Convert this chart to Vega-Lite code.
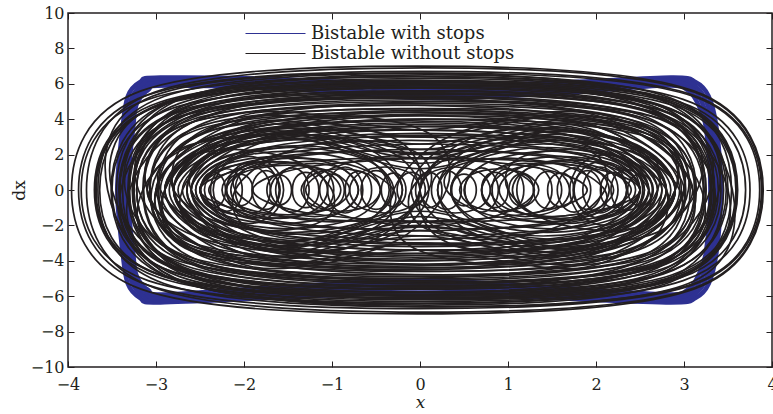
{
"$schema":"https://vega.github.io/schema/vega-lite/v6.json",
"width":704,"height":354,
"autosize":{"type":"none"},
"padding":{"left":68,"top":13,"right":1,"bottom":47},
"background":"white",
"datasets":{
"blu":[
{"g":1,"x":-2.95,"y":6.35},{"g":1,"x":-1.5,"y":6.25},{"g":1,"x":0,"y":5.9},{"g":1,"x":1.5,"y":6.05},{"g":1,"x":2.85,"y":6.35},{"g":1,"x":3.13,"y":6.1},{"g":1,"x":3.28,"y":5.3},{"g":1,"x":3.37,"y":3.5},{"g":1,"x":3.42,"y":0},{"g":1,"x":3.37,"y":-3.5},{"g":1,"x":3.28,"y":-5.3},{"g":1,"x":3.13,"y":-6.1},{"g":1,"x":2.85,"y":-6.35},{"g":1,"x":1.5,"y":-6.1},{"g":1,"x":0,"y":-5.8},{"g":1,"x":-1.5,"y":-6.05},{"g":1,"x":-2.95,"y":-6.35},{"g":1,"x":-3.18,"y":-6.1},{"g":1,"x":-3.32,"y":-5.3},{"g":1,"x":-3.38,"y":-3.5},{"g":1,"x":-3.44,"y":0},{"g":1,"x":-3.38,"y":3.5},{"g":1,"x":-3.32,"y":5.3},{"g":1,"x":-3.18,"y":6.1},
{"g":2,"x":-2.92,"y":6.2},{"g":2,"x":-1.5,"y":6.1},{"g":2,"x":0,"y":5.65},{"g":2,"x":1.5,"y":5.85},{"g":2,"x":2.82,"y":6.2},{"g":2,"x":3.1,"y":5.95},{"g":2,"x":3.24,"y":5.15},{"g":2,"x":3.33,"y":3.5},{"g":2,"x":3.38,"y":0},{"g":2,"x":3.33,"y":-3.5},{"g":2,"x":3.24,"y":-5.15},{"g":2,"x":3.1,"y":-5.95},{"g":2,"x":2.82,"y":-6.2},{"g":2,"x":1.5,"y":-5.9},{"g":2,"x":0,"y":-5.55},{"g":2,"x":-1.5,"y":-5.85},{"g":2,"x":-2.92,"y":-6.2},{"g":2,"x":-3.15,"y":-5.95},{"g":2,"x":-3.28,"y":-5.15},{"g":2,"x":-3.34,"y":-3.5},{"g":2,"x":-3.4,"y":0},{"g":2,"x":-3.34,"y":3.5},{"g":2,"x":-3.28,"y":5.15},{"g":2,"x":-3.15,"y":5.95},
{"g":3,"x":-2.9,"y":6.05},{"g":3,"x":-1.5,"y":5.9},{"g":3,"x":0,"y":5.4},{"g":3,"x":1.5,"y":5.65},{"g":3,"x":2.8,"y":6.05},{"g":3,"x":3.07,"y":5.8},{"g":3,"x":3.2,"y":5.0},{"g":3,"x":3.29,"y":3.5},{"g":3,"x":3.34,"y":0},{"g":3,"x":3.29,"y":-3.5},{"g":3,"x":3.2,"y":-5.0},{"g":3,"x":3.07,"y":-5.8},{"g":3,"x":2.8,"y":-6.05},{"g":3,"x":1.5,"y":-5.7},{"g":3,"x":0,"y":-5.3},{"g":3,"x":-1.5,"y":-5.65},{"g":3,"x":-2.9,"y":-6.05},{"g":3,"x":-3.12,"y":-5.8},{"g":3,"x":-3.25,"y":-5.0},{"g":3,"x":-3.3,"y":-3.5},{"g":3,"x":-3.36,"y":0},{"g":3,"x":-3.3,"y":3.5},{"g":3,"x":-3.25,"y":5.0},{"g":3,"x":-3.12,"y":5.8},
{"g":4,"x":-2.88,"y":5.9},{"g":4,"x":-1.5,"y":5.7},{"g":4,"x":0,"y":5.2},{"g":4,"x":1.5,"y":5.45},{"g":4,"x":2.78,"y":5.9},{"g":4,"x":3.04,"y":5.65},{"g":4,"x":3.16,"y":4.85},{"g":4,"x":3.25,"y":3.5},{"g":4,"x":3.3,"y":0},{"g":4,"x":3.25,"y":-3.5},{"g":4,"x":3.16,"y":-4.85},{"g":4,"x":3.04,"y":-5.65},{"g":4,"x":2.78,"y":-5.9},{"g":4,"x":1.5,"y":-5.5},{"g":4,"x":0,"y":-5.1},{"g":4,"x":-1.5,"y":-5.45},{"g":4,"x":-2.88,"y":-5.9},{"g":4,"x":-3.09,"y":-5.65},{"g":4,"x":-3.22,"y":-4.85},{"g":4,"x":-3.26,"y":-3.5},{"g":4,"x":-3.32,"y":0},{"g":4,"x":-3.26,"y":3.5},{"g":4,"x":-3.22,"y":4.85},{"g":4,"x":-3.09,"y":5.65}
],
"blk":[
{"g":1,"x":3.9,"y":0},{"g":1,"x":3.11,"y":-5.6},{"g":1,"x":-0.03,"y":-7.0},{"g":1,"x":-3.17,"y":-5.6},{"g":1,"x":-3.96,"y":0},{"g":1,"x":-3.17,"y":5.6},{"g":1,"x":-0.03,"y":7.0},{"g":1,"x":3.11,"y":5.6},
{"g":2,"x":3.88,"y":0},{"g":2,"x":3.1,"y":-5.36},{"g":2,"x":0,"y":-6.7},{"g":2,"x":-3.1,"y":-5.36},{"g":2,"x":-3.88,"y":0},{"g":2,"x":-3.1,"y":5.36},{"g":2,"x":0,"y":6.7},{"g":2,"x":3.1,"y":5.36},
{"g":3,"x":3.89,"y":0},{"g":3,"x":3.12,"y":-5.52},{"g":3,"x":0.05,"y":-6.9},{"g":3,"x":-3.02,"y":-5.52},{"g":3,"x":-3.79,"y":0},{"g":3,"x":-3.02,"y":5.52},{"g":3,"x":0.05,"y":6.9},{"g":3,"x":3.12,"y":5.52},
{"g":4,"x":3.75,"y":0},{"g":4,"x":2.99,"y":-5.12},{"g":4,"x":-0.05,"y":-6.4},{"g":4,"x":-3.09,"y":-5.12},{"g":4,"x":-3.85,"y":0},{"g":4,"x":-3.09,"y":5.12},{"g":4,"x":-0.05,"y":6.4},{"g":4,"x":2.99,"y":5.12},
{"g":5,"x":3.86,"y":0},{"g":5,"x":3.11,"y":-5.28},{"g":5,"x":0.1,"y":-6.6},{"g":5,"x":-2.91,"y":-5.28},{"g":5,"x":-3.66,"y":0},{"g":5,"x":-2.91,"y":5.28},{"g":5,"x":0.1,"y":6.6},{"g":5,"x":3.11,"y":5.28},
{"g":6,"x":3.7,"y":0},{"g":6,"x":2.96,"y":-4.96},{"g":6,"x":0,"y":-6.2},{"g":6,"x":-2.96,"y":-4.96},{"g":6,"x":-3.7,"y":0},{"g":6,"x":-2.96,"y":4.96},{"g":6,"x":0,"y":6.2},{"g":6,"x":2.96,"y":4.96},
{"g":7,"x":3.59,"y":0},{"g":7,"x":2.86,"y":-4.8},{"g":7,"x":-0.05,"y":-6.0},{"g":7,"x":-2.96,"y":-4.8},{"g":7,"x":-3.69,"y":0},{"g":7,"x":-2.96,"y":4.8},{"g":7,"x":-0.05,"y":6.0},{"g":7,"x":2.86,"y":4.8},
{"g":8,"x":3.6,"y":0},{"g":8,"x":2.88,"y":-4.88},{"g":8,"x":-0.02,"y":-6.1},{"g":8,"x":-2.92,"y":-4.88},{"g":8,"x":-3.64,"y":0},{"g":8,"x":-2.92,"y":4.88},{"g":8,"x":-0.02,"y":6.1},{"g":8,"x":2.88,"y":4.88},
{"g":9,"x":3.61,"y":0},{"g":9,"x":2.9,"y":-5.04},{"g":9,"x":0.05,"y":-6.3},{"g":9,"x":-2.8,"y":-5.04},{"g":9,"x":-3.51,"y":0},{"g":9,"x":-2.8,"y":5.04},{"g":9,"x":0.05,"y":6.3},{"g":9,"x":2.9,"y":5.04},
{"g":10,"x":3.5,"y":0},{"g":10,"x":2.8,"y":-4.64},{"g":10,"x":0,"y":-5.8},{"g":10,"x":-2.8,"y":-4.64},{"g":10,"x":-3.5,"y":0},{"g":10,"x":-2.8,"y":4.64},{"g":10,"x":0,"y":5.8},{"g":10,"x":2.8,"y":4.64},
{"g":11,"x":3.54,"y":0},{"g":11,"x":2.85,"y":-5.2},{"g":11,"x":0.08,"y":-6.5},{"g":11,"x":-2.69,"y":-5.2},{"g":11,"x":-3.38,"y":0},{"g":11,"x":-2.69,"y":5.2},{"g":11,"x":0.08,"y":6.5},{"g":11,"x":2.85,"y":5.2},
{"g":12,"x":3.42,"y":0},{"g":12,"x":2.74,"y":-4.48},{"g":12,"x":0,"y":-5.6},{"g":12,"x":-2.74,"y":-4.48},{"g":12,"x":-3.42,"y":0},{"g":12,"x":-2.74,"y":4.48},{"g":12,"x":0,"y":5.6},{"g":12,"x":2.74,"y":4.48},
{"g":13,"x":3.34,"y":0},{"g":13,"x":2.66,"y":-4.88},{"g":13,"x":-0.04,"y":-6.1},{"g":13,"x":-2.74,"y":-4.88},{"g":13,"x":-3.42,"y":0},{"g":13,"x":-2.74,"y":4.88},{"g":13,"x":-0.04,"y":6.1},{"g":13,"x":2.66,"y":4.88},
{"g":14,"x":3.39,"y":0},{"g":14,"x":2.72,"y":-4.32},{"g":14,"x":0.04,"y":-5.4},{"g":14,"x":-2.64,"y":-4.32},{"g":14,"x":-3.31,"y":0},{"g":14,"x":-2.64,"y":4.32},{"g":14,"x":0.04,"y":5.4},{"g":14,"x":2.72,"y":4.32},
{"g":15,"x":3.32,"y":0},{"g":15,"x":2.66,"y":-4.72},{"g":15,"x":0,"y":-5.9},{"g":15,"x":-2.66,"y":-4.72},{"g":15,"x":-3.32,"y":0},{"g":15,"x":-2.66,"y":4.72},{"g":15,"x":0,"y":5.9},{"g":15,"x":2.66,"y":4.72},
{"g":16,"x":3.3,"y":0},{"g":16,"x":2.64,"y":-4.16},{"g":16,"x":0.02,"y":-5.2},{"g":16,"x":-2.6,"y":-4.16},{"g":16,"x":-3.26,"y":0},{"g":16,"x":-2.6,"y":4.16},{"g":16,"x":0.02,"y":5.2},{"g":16,"x":2.64,"y":4.16},
{"g":17,"x":3.23,"y":0},{"g":17,"x":2.58,"y":-4.48},{"g":17,"x":-0.02,"y":-5.6},{"g":17,"x":-2.62,"y":-4.48},{"g":17,"x":-3.27,"y":0},{"g":17,"x":-2.62,"y":4.48},{"g":17,"x":-0.02,"y":5.6},{"g":17,"x":2.58,"y":4.48},
{"g":18,"x":3.22,"y":0},{"g":18,"x":2.58,"y":-4.0},{"g":18,"x":0,"y":-5.0},{"g":18,"x":-2.58,"y":-4.0},{"g":18,"x":-3.22,"y":0},{"g":18,"x":-2.58,"y":4.0},{"g":18,"x":0,"y":5.0},{"g":18,"x":2.58,"y":4.0},
{"g":19,"x":3.25,"y":0},{"g":19,"x":2.61,"y":-4.36},{"g":19,"x":0.05,"y":-5.45},{"g":19,"x":-2.51,"y":-4.36},{"g":19,"x":-3.15,"y":0},{"g":19,"x":-2.51,"y":4.36},{"g":19,"x":0.05,"y":5.45},{"g":19,"x":2.61,"y":4.36},
{"g":20,"x":3.12,"y":0},{"g":20,"x":2.49,"y":-3.84},{"g":20,"x":-0.05,"y":-4.8},{"g":20,"x":-2.59,"y":-3.84},{"g":20,"x":-3.22,"y":0},{"g":20,"x":-2.59,"y":3.84},{"g":20,"x":-0.05,"y":4.8},{"g":20,"x":2.49,"y":3.84},
{"g":21,"x":3.14,"y":0},{"g":21,"x":2.51,"y":-4.24},{"g":21,"x":0,"y":-5.3},{"g":21,"x":-2.51,"y":-4.24},{"g":21,"x":-3.14,"y":0},{"g":21,"x":-2.51,"y":4.24},{"g":21,"x":0,"y":5.3},{"g":21,"x":2.51,"y":4.24},
{"g":22,"x":3.13,"y":0},{"g":22,"x":2.51,"y":-3.68},{"g":22,"x":0.03,"y":-4.6},{"g":22,"x":-2.45,"y":-3.68},{"g":22,"x":-3.07,"y":0},{"g":22,"x":-2.45,"y":3.68},{"g":22,"x":0.03,"y":4.6},{"g":22,"x":2.51,"y":3.68},
{"g":23,"x":3.07,"y":0},{"g":23,"x":2.46,"y":-4.08},{"g":23,"x":0,"y":-5.1},{"g":23,"x":-2.46,"y":-4.08},{"g":23,"x":-3.07,"y":0},{"g":23,"x":-2.46,"y":4.08},{"g":23,"x":0,"y":5.1},{"g":23,"x":2.46,"y":4.08},
{"g":24,"x":3.01,"y":0},{"g":24,"x":2.4,"y":-3.52},{"g":24,"x":-0.03,"y":-4.4},{"g":24,"x":-2.46,"y":-3.52},{"g":24,"x":-3.07,"y":0},{"g":24,"x":-2.46,"y":3.52},{"g":24,"x":-0.03,"y":4.4},{"g":24,"x":2.4,"y":3.52},
{"g":25,"x":3.02,"y":0},{"g":25,"x":2.42,"y":-3.92},{"g":25,"x":0.02,"y":-4.9},{"g":25,"x":-2.38,"y":-3.92},{"g":25,"x":-2.98,"y":0},{"g":25,"x":-2.38,"y":3.92},{"g":25,"x":0.02,"y":4.9},{"g":25,"x":2.42,"y":3.92},
{"g":26,"x":2.97,"y":0},{"g":26,"x":2.38,"y":-3.36},{"g":26,"x":0,"y":-4.2},{"g":26,"x":-2.38,"y":-3.36},{"g":26,"x":-2.97,"y":0},{"g":26,"x":-2.38,"y":3.36},{"g":26,"x":0,"y":4.2},{"g":26,"x":2.38,"y":3.36},
{"g":27,"x":3.6,"y":0},{"g":27,"x":2.91,"y":-4.92},{"g":27,"x":0.15,"y":-6.15},{"g":27,"x":-2.61,"y":-4.92},{"g":27,"x":-3.3,"y":0},{"g":27,"x":-2.61,"y":4.92},{"g":27,"x":0.15,"y":6.15},{"g":27,"x":2.91,"y":4.92},
{"g":28,"x":3.48,"y":0},{"g":28,"x":2.76,"y":-4.76},{"g":28,"x":-0.1,"y":-5.95},{"g":28,"x":-2.96,"y":-4.76},{"g":28,"x":-3.68,"y":0},{"g":28,"x":-2.96,"y":4.76},{"g":28,"x":-0.1,"y":5.95},{"g":28,"x":2.76,"y":4.76},
{"g":29,"x":2.95,"y":0},{"g":29,"x":2.21,"y":-3.3},{"g":29,"x":0,"y":-4.4},{"g":29,"x":-2.21,"y":-3.3},{"g":29,"x":-2.95,"y":0},{"g":29,"x":-2.21,"y":3.3},{"g":29,"x":0,"y":4.4},{"g":29,"x":2.21,"y":3.3},
{"g":30,"x":2.9,"y":0},{"g":30,"x":2.19,"y":-3.0},{"g":30,"x":0.05,"y":-4.0},{"g":30,"x":-2.09,"y":-3.0},{"g":30,"x":-2.8,"y":0},{"g":30,"x":-2.09,"y":3.0},{"g":30,"x":0.05,"y":4.0},{"g":30,"x":2.19,"y":3.0},
{"g":31,"x":2.7,"y":0},{"g":31,"x":2.01,"y":-2.78},{"g":31,"x":-0.05,"y":-3.7},{"g":31,"x":-2.11,"y":-2.78},{"g":31,"x":-2.8,"y":0},{"g":31,"x":-2.11,"y":2.78},{"g":31,"x":-0.05,"y":3.7},{"g":31,"x":2.01,"y":2.78},
{"g":32,"x":2.65,"y":0},{"g":32,"x":1.99,"y":-2.55},{"g":32,"x":0,"y":-3.4},{"g":32,"x":-1.99,"y":-2.55},{"g":32,"x":-2.65,"y":0},{"g":32,"x":-1.99,"y":2.55},{"g":32,"x":0,"y":3.4},{"g":32,"x":1.99,"y":2.55},
{"g":33,"x":2.65,"y":0},{"g":33,"x":2.01,"y":-2.33},{"g":33,"x":0.1,"y":-3.1},{"g":33,"x":-1.81,"y":-2.33},{"g":33,"x":-2.45,"y":0},{"g":33,"x":-1.81,"y":2.33},{"g":33,"x":0.1,"y":3.1},{"g":33,"x":2.01,"y":2.33},
{"g":34,"x":2.35,"y":0},{"g":34,"x":1.74,"y":-2.1},{"g":34,"x":-0.1,"y":-2.8},{"g":34,"x":-1.94,"y":-2.1},{"g":34,"x":-2.55,"y":0},{"g":34,"x":-1.94,"y":2.1},{"g":34,"x":-0.1,"y":2.8},{"g":34,"x":1.74,"y":2.1},
{"g":35,"x":2.9,"y":0},{"g":35,"x":2.18,"y":-2.7},{"g":35,"x":0,"y":-3.6},{"g":35,"x":-2.18,"y":-2.7},{"g":35,"x":-2.9,"y":0},{"g":35,"x":-2.18,"y":2.7},{"g":35,"x":0,"y":3.6},{"g":35,"x":2.18,"y":2.7},
{"g":36,"x":2.75,"y":0},{"g":36,"x":2.08,"y":-3.15},{"g":36,"x":0.05,"y":-4.2},{"g":36,"x":-1.98,"y":-3.15},{"g":36,"x":-2.65,"y":0},{"g":36,"x":-1.98,"y":3.15},{"g":36,"x":0.05,"y":4.2},{"g":36,"x":2.08,"y":3.15},
{"g":37,"x":2.55,"y":0},{"g":37,"x":1.9,"y":-2.85},{"g":37,"x":-0.05,"y":-3.8},{"g":37,"x":-2.0,"y":-2.85},{"g":37,"x":-2.65,"y":0},{"g":37,"x":-2.0,"y":2.85},{"g":37,"x":-0.05,"y":3.8},{"g":37,"x":1.9,"y":2.85},
{"g":38,"x":2.8,"y":0},{"g":38,"x":2.1,"y":-2.4},{"g":38,"x":0,"y":-3.2},{"g":38,"x":-2.1,"y":-2.4},{"g":38,"x":-2.8,"y":0},{"g":38,"x":-2.1,"y":2.4},{"g":38,"x":0,"y":3.2},{"g":38,"x":2.1,"y":2.4},
{"g":39,"x":2.45,"y":0},{"g":39,"x":1.86,"y":-1.95},{"g":39,"x":0.1,"y":-2.6},{"g":39,"x":-1.66,"y":-1.95},{"g":39,"x":-2.25,"y":0},{"g":39,"x":-1.66,"y":1.95},{"g":39,"x":0.1,"y":2.6},{"g":39,"x":1.86,"y":1.95},
{"g":40,"x":2.9,"y":0},{"g":40,"x":2.15,"y":-2.93},{"g":40,"x":-0.1,"y":-3.9},{"g":40,"x":-2.35,"y":-2.93},{"g":40,"x":-3.1,"y":0},{"g":40,"x":-2.35,"y":2.93},{"g":40,"x":-0.1,"y":3.9},{"g":40,"x":2.15,"y":2.93},
{"g":41,"x":2.7,"y":0},{"g":41,"x":1.67,"y":-3.5},{"g":41,"x":0,"y":-2.0},{"g":41,"x":-1.67,"y":-3.5},{"g":41,"x":-2.7,"y":0},{"g":41,"x":-1.67,"y":3.5},{"g":41,"x":0,"y":2.0},{"g":41,"x":1.67,"y":3.5},
{"g":42,"x":2.9,"y":0},{"g":42,"x":1.8,"y":-3.86},{"g":42,"x":0,"y":-2.6},{"g":42,"x":-1.8,"y":-3.86},{"g":42,"x":-2.9,"y":0},{"g":42,"x":-1.8,"y":3.86},{"g":42,"x":0,"y":2.6},{"g":42,"x":1.8,"y":3.86},
{"g":43,"x":2.6,"y":0},{"g":43,"x":1.61,"y":-3.13},{"g":43,"x":0,"y":-1.5},{"g":43,"x":-1.61,"y":-3.13},{"g":43,"x":-2.6,"y":0},{"g":43,"x":-1.61,"y":3.13},{"g":43,"x":0,"y":1.5},{"g":43,"x":1.61,"y":3.13},
{"g":44,"x":3.0,"y":0},{"g":44,"x":1.86,"y":-4.14},{"g":44,"x":0,"y":-3.0},{"g":44,"x":-1.86,"y":-4.14},{"g":44,"x":-3.0,"y":0},{"g":44,"x":-1.86,"y":4.14},{"g":44,"x":0,"y":3.0},{"g":44,"x":1.86,"y":4.14},
{"g":45,"x":2.8,"y":0},{"g":45,"x":1.74,"y":-3.68},{"g":45,"x":0,"y":-2.3},{"g":45,"x":-1.74,"y":-3.68},{"g":45,"x":-2.8,"y":0},{"g":45,"x":-1.74,"y":3.68},{"g":45,"x":0,"y":2.3},{"g":45,"x":1.74,"y":3.68},
{"g":46,"x":2.5,"y":0},{"g":46,"x":1.55,"y":-2.94},{"g":46,"x":0,"y":-1.2},{"g":46,"x":-1.55,"y":-2.94},{"g":46,"x":-2.5,"y":0},{"g":46,"x":-1.55,"y":2.94},{"g":46,"x":0,"y":1.2},{"g":46,"x":1.55,"y":2.94},
{"g":47,"x":3.1,"y":0},{"g":47,"x":1.92,"y":-4.32},{"g":47,"x":0,"y":-3.4},{"g":47,"x":-1.92,"y":-4.32},{"g":47,"x":-3.1,"y":0},{"g":47,"x":-1.92,"y":4.32},{"g":47,"x":0,"y":3.4},{"g":47,"x":1.92,"y":4.32},
{"g":48,"x":2.75,"y":0},{"g":48,"x":1.71,"y":-3.31},{"g":48,"x":0,"y":-1.8},{"g":48,"x":-1.71,"y":-3.31},{"g":48,"x":-2.75,"y":0},{"g":48,"x":-1.71,"y":3.31},{"g":48,"x":0,"y":1.8},{"g":48,"x":1.71,"y":3.31},
{"g":49,"x":2.6,"y":0},{"g":49,"x":2.26,"y":-1.87},{"g":49,"x":1.4,"y":-2.6},{"g":49,"x":0.54,"y":-1.87},{"g":49,"x":0.2,"y":0},{"g":49,"x":0.54,"y":1.87},{"g":49,"x":1.4,"y":2.6},{"g":49,"x":2.26,"y":1.87},
{"g":50,"x":2.5,"y":0},{"g":50,"x":2.22,"y":-1.58},{"g":50,"x":1.5,"y":-2.2},{"g":50,"x":0.78,"y":-1.58},{"g":50,"x":0.5,"y":0},{"g":50,"x":0.78,"y":1.58},{"g":50,"x":1.5,"y":2.2},{"g":50,"x":2.22,"y":1.58},
{"g":51,"x":2.6,"y":0},{"g":51,"x":2.24,"y":-2.16},{"g":51,"x":1.3,"y":-3.0},{"g":51,"x":0.36,"y":-2.16},{"g":51,"x":0,"y":0},{"g":51,"x":0.36,"y":2.16},{"g":51,"x":1.3,"y":3.0},{"g":51,"x":2.24,"y":2.16},
{"g":52,"x":2.5,"y":0},{"g":52,"x":2.25,"y":-1.37},{"g":52,"x":1.6,"y":-1.9},{"g":52,"x":0.95,"y":-1.37},{"g":52,"x":0.7,"y":0},{"g":52,"x":0.95,"y":1.37},{"g":52,"x":1.6,"y":1.9},{"g":52,"x":2.25,"y":1.37},
{"g":53,"x":2.55,"y":0},{"g":53,"x":2.24,"y":-1.73},{"g":53,"x":1.45,"y":-2.4},{"g":53,"x":0.66,"y":-1.73},{"g":53,"x":0.35,"y":0},{"g":53,"x":0.66,"y":1.73},{"g":53,"x":1.45,"y":2.4},{"g":53,"x":2.24,"y":1.73},
{"g":54,"x":2.9,"y":0},{"g":54,"x":2.52,"y":-2.38},{"g":54,"x":1.55,"y":-3.3},{"g":54,"x":0.58,"y":-2.38},{"g":54,"x":0.2,"y":0},{"g":54,"x":0.58,"y":2.38},{"g":54,"x":1.55,"y":3.3},{"g":54,"x":2.52,"y":2.38},
{"g":55,"x":2.5,"y":0},{"g":55,"x":2.28,"y":-1.22},{"g":55,"x":1.7,"y":-1.7},{"g":55,"x":1.12,"y":-1.22},{"g":55,"x":0.9,"y":0},{"g":55,"x":1.12,"y":1.22},{"g":55,"x":1.7,"y":1.7},{"g":55,"x":2.28,"y":1.22},
{"g":56,"x":2.8,"y":0},{"g":56,"x":2.39,"y":-2.52},{"g":56,"x":1.35,"y":-3.5},{"g":56,"x":0.31,"y":-2.52},{"g":56,"x":-0.1,"y":0},{"g":56,"x":0.31,"y":2.52},{"g":56,"x":1.35,"y":3.5},{"g":56,"x":2.39,"y":2.52},
{"g":57,"x":2.2,"y":0},{"g":57,"x":2.0,"y":-1.08},{"g":57,"x":1.5,"y":-1.5},{"g":57,"x":1.0,"y":-1.08},{"g":57,"x":0.8,"y":0},{"g":57,"x":1.0,"y":1.08},{"g":57,"x":1.5,"y":1.5},{"g":57,"x":2.0,"y":1.08},
{"g":58,"x":2.85,"y":0},{"g":58,"x":2.5,"y":-2.02},{"g":58,"x":1.6,"y":-2.8},{"g":58,"x":0.7,"y":-2.02},{"g":58,"x":0.35,"y":0},{"g":58,"x":0.7,"y":2.02},{"g":58,"x":1.6,"y":2.8},{"g":58,"x":2.5,"y":2.02},
{"g":59,"x":-0.2,"y":0},{"g":59,"x":-0.54,"y":-1.8},{"g":59,"x":-1.4,"y":-2.5},{"g":59,"x":-2.26,"y":-1.8},{"g":59,"x":-2.6,"y":0},{"g":59,"x":-2.26,"y":1.8},{"g":59,"x":-1.4,"y":2.5},{"g":59,"x":-0.54,"y":1.8},
{"g":60,"x":-0.45,"y":0},{"g":60,"x":-0.74,"y":-1.58},{"g":60,"x":-1.5,"y":-2.2},{"g":60,"x":-2.26,"y":-1.58},{"g":60,"x":-2.55,"y":0},{"g":60,"x":-2.26,"y":1.58},{"g":60,"x":-1.5,"y":2.2},{"g":60,"x":-0.74,"y":1.58},
{"g":61,"x":0,"y":0},{"g":61,"x":-0.36,"y":-2.23},{"g":61,"x":-1.3,"y":-3.1},{"g":61,"x":-2.24,"y":-2.23},{"g":61,"x":-2.6,"y":0},{"g":61,"x":-2.24,"y":2.23},{"g":61,"x":-1.3,"y":3.1},{"g":61,"x":-0.36,"y":2.23},
{"g":62,"x":-0.7,"y":0},{"g":62,"x":-0.95,"y":-1.37},{"g":62,"x":-1.6,"y":-1.9},{"g":62,"x":-2.25,"y":-1.37},{"g":62,"x":-2.5,"y":0},{"g":62,"x":-2.25,"y":1.37},{"g":62,"x":-1.6,"y":1.9},{"g":62,"x":-0.95,"y":1.37},
{"g":63,"x":-0.3,"y":0},{"g":63,"x":-0.62,"y":-1.73},{"g":63,"x":-1.45,"y":-2.4},{"g":63,"x":-2.28,"y":-1.73},{"g":63,"x":-2.6,"y":0},{"g":63,"x":-2.28,"y":1.73},{"g":63,"x":-1.45,"y":2.4},{"g":63,"x":-0.62,"y":1.73},
{"g":64,"x":-0.2,"y":0},{"g":64,"x":-0.58,"y":-2.3},{"g":64,"x":-1.55,"y":-3.2},{"g":64,"x":-2.52,"y":-2.3},{"g":64,"x":-2.9,"y":0},{"g":64,"x":-2.52,"y":2.3},{"g":64,"x":-1.55,"y":3.2},{"g":64,"x":-0.58,"y":2.3},
{"g":65,"x":-0.9,"y":0},{"g":65,"x":-1.12,"y":-1.15},{"g":65,"x":-1.7,"y":-1.6},{"g":65,"x":-2.28,"y":-1.15},{"g":65,"x":-2.5,"y":0},{"g":65,"x":-2.28,"y":1.15},{"g":65,"x":-1.7,"y":1.6},{"g":65,"x":-1.12,"y":1.15},
{"g":66,"x":0.1,"y":0},{"g":66,"x":-0.31,"y":-2.52},{"g":66,"x":-1.35,"y":-3.5},{"g":66,"x":-2.39,"y":-2.52},{"g":66,"x":-2.8,"y":0},{"g":66,"x":-2.39,"y":2.52},{"g":66,"x":-1.35,"y":3.5},{"g":66,"x":-0.31,"y":2.52},
{"g":67,"x":-0.8,"y":0},{"g":67,"x":-1.0,"y":-1.01},{"g":67,"x":-1.5,"y":-1.4},{"g":67,"x":-2.0,"y":-1.01},{"g":67,"x":-2.2,"y":0},{"g":67,"x":-2.0,"y":1.01},{"g":67,"x":-1.5,"y":1.4},{"g":67,"x":-1.0,"y":1.01},
{"g":68,"x":-0.35,"y":0},{"g":68,"x":-0.7,"y":-2.09},{"g":68,"x":-1.6,"y":-2.9},{"g":68,"x":-2.5,"y":-2.09},{"g":68,"x":-2.85,"y":0},{"g":68,"x":-2.5,"y":2.09},{"g":68,"x":-1.6,"y":2.9},{"g":68,"x":-0.7,"y":2.09},
{"g":69,"x":-2.21,"y":0},{"g":69,"x":-2.25,"y":-0.71},{"g":69,"x":-2.35,"y":-1.0},{"g":69,"x":-2.45,"y":-0.71},{"g":69,"x":-2.49,"y":0},{"g":69,"x":-2.45,"y":0.71},{"g":69,"x":-2.35,"y":1.0},{"g":69,"x":-2.25,"y":0.71},
{"g":70,"x":-2.02,"y":0},{"g":70,"x":-2.07,"y":-0.85},{"g":70,"x":-2.2,"y":-1.2},{"g":70,"x":-2.33,"y":-0.85},{"g":70,"x":-2.38,"y":0},{"g":70,"x":-2.33,"y":0.85},{"g":70,"x":-2.2,"y":1.2},{"g":70,"x":-2.07,"y":0.85},
{"g":71,"x":-1.9,"y":0},{"g":71,"x":-1.94,"y":-0.64},{"g":71,"x":-2.05,"y":-0.9},{"g":71,"x":-2.16,"y":-0.64},{"g":71,"x":-2.2,"y":0},{"g":71,"x":-2.16,"y":0.64},{"g":71,"x":-2.05,"y":0.9},{"g":71,"x":-1.94,"y":0.64},
{"g":72,"x":-1.7,"y":0},{"g":72,"x":-1.76,"y":-0.92},{"g":72,"x":-1.9,"y":-1.3},{"g":72,"x":-2.04,"y":-0.92},{"g":72,"x":-2.1,"y":0},{"g":72,"x":-2.04,"y":0.92},{"g":72,"x":-1.9,"y":1.3},{"g":72,"x":-1.76,"y":0.92},
{"g":73,"x":-1.59,"y":0},{"g":73,"x":-1.64,"y":-0.78},{"g":73,"x":-1.75,"y":-1.1},{"g":73,"x":-1.86,"y":-0.78},{"g":73,"x":-1.91,"y":0},{"g":73,"x":-1.86,"y":0.78},{"g":73,"x":-1.75,"y":1.1},{"g":73,"x":-1.64,"y":0.78},
{"g":74,"x":-1.46,"y":0},{"g":74,"x":-1.5,"y":-0.6},{"g":74,"x":-1.6,"y":-0.85},{"g":74,"x":-1.7,"y":-0.6},{"g":74,"x":-1.74,"y":0},{"g":74,"x":-1.7,"y":0.6},{"g":74,"x":-1.6,"y":0.85},{"g":74,"x":-1.5,"y":0.6},
{"g":75,"x":-1.26,"y":0},{"g":75,"x":-1.32,"y":-0.89},{"g":75,"x":-1.45,"y":-1.25},{"g":75,"x":-1.58,"y":-0.89},{"g":75,"x":-1.64,"y":0},{"g":75,"x":-1.58,"y":0.89},{"g":75,"x":-1.45,"y":1.25},{"g":75,"x":-1.32,"y":0.89},
{"g":76,"x":-1.15,"y":0},{"g":76,"x":-1.19,"y":-0.71},{"g":76,"x":-1.3,"y":-1.0},{"g":76,"x":-1.41,"y":-0.71},{"g":76,"x":-1.45,"y":0},{"g":76,"x":-1.41,"y":0.71},{"g":76,"x":-1.3,"y":1.0},{"g":76,"x":-1.19,"y":0.71},
{"g":77,"x":-0.98,"y":0},{"g":77,"x":-1.03,"y":-0.82},{"g":77,"x":-1.15,"y":-1.15},{"g":77,"x":-1.27,"y":-0.82},{"g":77,"x":-1.32,"y":0},{"g":77,"x":-1.27,"y":0.82},{"g":77,"x":-1.15,"y":1.15},{"g":77,"x":-1.03,"y":0.82},
{"g":78,"x":-0.86,"y":0},{"g":78,"x":-0.9,"y":-0.64},{"g":78,"x":-1.0,"y":-0.9},{"g":78,"x":-1.1,"y":-0.64},{"g":78,"x":-1.14,"y":0},{"g":78,"x":-1.1,"y":0.64},{"g":78,"x":-1.0,"y":0.9},{"g":78,"x":-0.9,"y":0.64},
{"g":79,"x":-0.65,"y":0},{"g":79,"x":-0.71,"y":-0.92},{"g":79,"x":-0.85,"y":-1.3},{"g":79,"x":-0.99,"y":-0.92},{"g":79,"x":-1.05,"y":0},{"g":79,"x":-0.99,"y":0.92},{"g":79,"x":-0.85,"y":1.3},{"g":79,"x":-0.71,"y":0.92},
{"g":80,"x":-0.55,"y":0},{"g":80,"x":-0.59,"y":-0.75},{"g":80,"x":-0.7,"y":-1.05},{"g":80,"x":-0.81,"y":-0.75},{"g":80,"x":-0.85,"y":0},{"g":80,"x":-0.81,"y":0.75},{"g":80,"x":-0.7,"y":1.05},{"g":80,"x":-0.59,"y":0.75},
{"g":81,"x":-0.33,"y":0},{"g":81,"x":-0.38,"y":-0.78},{"g":81,"x":-0.5,"y":-1.1},{"g":81,"x":-0.62,"y":-0.78},{"g":81,"x":-0.67,"y":0},{"g":81,"x":-0.62,"y":0.78},{"g":81,"x":-0.5,"y":1.1},{"g":81,"x":-0.38,"y":0.78},
{"g":82,"x":-0.16,"y":0},{"g":82,"x":-0.2,"y":-0.67},{"g":82,"x":-0.3,"y":-0.95},{"g":82,"x":-0.4,"y":-0.67},{"g":82,"x":-0.44,"y":0},{"g":82,"x":-0.4,"y":0.67},{"g":82,"x":-0.3,"y":0.95},{"g":82,"x":-0.2,"y":0.67},
{"g":83,"x":0.06,"y":0},{"g":83,"x":0.01,"y":-0.71},{"g":83,"x":-0.1,"y":-1.0},{"g":83,"x":-0.21,"y":-0.71},{"g":83,"x":-0.26,"y":0},{"g":83,"x":-0.21,"y":0.71},{"g":83,"x":-0.1,"y":1.0},{"g":83,"x":0.01,"y":0.71},
{"g":84,"x":0.25,"y":0},{"g":84,"x":0.21,"y":-0.71},{"g":84,"x":0.1,"y":-1.0},{"g":84,"x":-0.01,"y":-0.71},{"g":84,"x":-0.05,"y":0},{"g":84,"x":-0.01,"y":0.71},{"g":84,"x":0.1,"y":1.0},{"g":84,"x":0.21,"y":0.71},
{"g":85,"x":0.47,"y":0},{"g":85,"x":0.42,"y":-0.78},{"g":85,"x":0.3,"y":-1.1},{"g":85,"x":0.18,"y":-0.78},{"g":85,"x":0.13,"y":0},{"g":85,"x":0.18,"y":0.78},{"g":85,"x":0.3,"y":1.1},{"g":85,"x":0.42,"y":0.78},
{"g":86,"x":0.64,"y":0},{"g":86,"x":0.6,"y":-0.64},{"g":86,"x":0.5,"y":-0.9},{"g":86,"x":0.4,"y":-0.64},{"g":86,"x":0.36,"y":0},{"g":86,"x":0.4,"y":0.64},{"g":86,"x":0.5,"y":0.9},{"g":86,"x":0.6,"y":0.64},
{"g":87,"x":0.89,"y":0},{"g":87,"x":0.83,"y":-0.89},{"g":87,"x":0.7,"y":-1.25},{"g":87,"x":0.57,"y":-0.89},{"g":87,"x":0.51,"y":0},{"g":87,"x":0.57,"y":0.89},{"g":87,"x":0.7,"y":1.25},{"g":87,"x":0.83,"y":0.89},
{"g":88,"x":1.0,"y":0},{"g":88,"x":0.96,"y":-0.71},{"g":88,"x":0.85,"y":-1.0},{"g":88,"x":0.74,"y":-0.71},{"g":88,"x":0.7,"y":0},{"g":88,"x":0.74,"y":0.71},{"g":88,"x":0.85,"y":1.0},{"g":88,"x":0.96,"y":0.71},
{"g":89,"x":1.18,"y":0},{"g":89,"x":1.13,"y":-0.85},{"g":89,"x":1.0,"y":-1.2},{"g":89,"x":0.87,"y":-0.85},{"g":89,"x":0.82,"y":0},{"g":89,"x":0.87,"y":0.85},{"g":89,"x":1.0,"y":1.2},{"g":89,"x":1.13,"y":0.85},
{"g":90,"x":1.29,"y":0},{"g":90,"x":1.25,"y":-0.64},{"g":90,"x":1.15,"y":-0.9},{"g":90,"x":1.05,"y":-0.64},{"g":90,"x":1.01,"y":0},{"g":90,"x":1.05,"y":0.64},{"g":90,"x":1.15,"y":0.9},{"g":90,"x":1.25,"y":0.64},
{"g":91,"x":1.5,"y":0},{"g":91,"x":1.44,"y":-0.92},{"g":91,"x":1.3,"y":-1.3},{"g":91,"x":1.16,"y":-0.92},{"g":91,"x":1.1,"y":0},{"g":91,"x":1.16,"y":0.92},{"g":91,"x":1.3,"y":1.3},{"g":91,"x":1.44,"y":0.92},
{"g":92,"x":1.61,"y":0},{"g":92,"x":1.56,"y":-0.75},{"g":92,"x":1.45,"y":-1.05},{"g":92,"x":1.34,"y":-0.75},{"g":92,"x":1.29,"y":0},{"g":92,"x":1.34,"y":0.75},{"g":92,"x":1.45,"y":1.05},{"g":92,"x":1.56,"y":0.75},
{"g":93,"x":1.75,"y":0},{"g":93,"x":1.71,"y":-0.67},{"g":93,"x":1.6,"y":-0.95},{"g":93,"x":1.49,"y":-0.67},{"g":93,"x":1.45,"y":0},{"g":93,"x":1.49,"y":0.67},{"g":93,"x":1.6,"y":0.95},{"g":93,"x":1.71,"y":0.67},
{"g":94,"x":1.94,"y":0},{"g":94,"x":1.88,"y":-0.89},{"g":94,"x":1.75,"y":-1.25},{"g":94,"x":1.62,"y":-0.89},{"g":94,"x":1.56,"y":0},{"g":94,"x":1.62,"y":0.89},{"g":94,"x":1.75,"y":1.25},{"g":94,"x":1.88,"y":0.89},
{"g":95,"x":2.06,"y":0},{"g":95,"x":2.01,"y":-0.78},{"g":95,"x":1.9,"y":-1.1},{"g":95,"x":1.79,"y":-0.78},{"g":95,"x":1.74,"y":0},{"g":95,"x":1.79,"y":0.78},{"g":95,"x":1.9,"y":1.1},{"g":95,"x":2.01,"y":0.78},
{"g":96,"x":2.25,"y":0},{"g":96,"x":2.19,"y":-0.92},{"g":96,"x":2.05,"y":-1.3},{"g":96,"x":1.91,"y":-0.92},{"g":96,"x":1.85,"y":0},{"g":96,"x":1.91,"y":0.92},{"g":96,"x":2.05,"y":1.3},{"g":96,"x":2.19,"y":0.92},
{"g":97,"x":2.35,"y":0},{"g":97,"x":2.31,"y":-0.71},{"g":97,"x":2.2,"y":-1.0},{"g":97,"x":2.09,"y":-0.71},{"g":97,"x":2.05,"y":0},{"g":97,"x":2.09,"y":0.71},{"g":97,"x":2.2,"y":1.0},{"g":97,"x":2.31,"y":0.71},
{"g":98,"x":2.53,"y":0},{"g":98,"x":2.48,"y":-0.82},{"g":98,"x":2.35,"y":-1.15},{"g":98,"x":2.22,"y":-0.82},{"g":98,"x":2.17,"y":0},{"g":98,"x":2.22,"y":0.82},{"g":98,"x":2.35,"y":1.15},{"g":98,"x":2.48,"y":0.82},
{"g":99,"x":2.64,"y":0},{"g":99,"x":2.6,"y":-0.64},{"g":99,"x":2.5,"y":-0.9},{"g":99,"x":2.4,"y":-0.64},{"g":99,"x":2.36,"y":0},{"g":99,"x":2.4,"y":0.64},{"g":99,"x":2.5,"y":0.9},{"g":99,"x":2.6,"y":0.64},
{"g":100,"x":2.35,"y":0},{"g":100,"x":2.26,"y":-1.14},{"g":100,"x":2.05,"y":-1.6},{"g":100,"x":1.84,"y":-1.14},{"g":100,"x":1.75,"y":0},{"g":100,"x":1.84,"y":1.14},{"g":100,"x":2.05,"y":1.6},{"g":100,"x":2.26,"y":1.14},
{"g":101,"x":-1.6,"y":0},{"g":101,"x":-1.69,"y":-1.14},{"g":101,"x":-1.9,"y":-1.6},{"g":101,"x":-2.11,"y":-1.14},{"g":101,"x":-2.2,"y":0},{"g":101,"x":-2.11,"y":1.14},{"g":101,"x":-1.9,"y":1.6},{"g":101,"x":-1.69,"y":1.14},
{"g":102,"x":2.5,"y":0},{"g":102,"x":2.38,"y":-1.42},{"g":102,"x":2.1,"y":-2.0},{"g":102,"x":1.82,"y":-1.42},{"g":102,"x":1.7,"y":0},{"g":102,"x":1.82,"y":1.42},{"g":102,"x":2.1,"y":2.0},{"g":102,"x":2.38,"y":1.42},
{"g":103,"x":-1.55,"y":0},{"g":103,"x":-1.67,"y":-1.35},{"g":103,"x":-1.95,"y":-1.9},{"g":103,"x":-2.23,"y":-1.35},{"g":103,"x":-2.35,"y":0},{"g":103,"x":-2.23,"y":1.35},{"g":103,"x":-1.95,"y":1.9},{"g":103,"x":-1.67,"y":1.35},
{"g":104,"x":3.3,"y":0},{"g":104,"x":2.31,"y":-4.37},{"g":104,"x":-0.34,"y":-5.6},{"g":104,"x":-2.83,"y":-4.37},{"g":104,"x":-3.3,"y":0},{"g":104,"x":-2.31,"y":4.37},{"g":104,"x":0.34,"y":5.6},{"g":104,"x":2.83,"y":4.37},
{"g":105,"x":3.1,"y":0},{"g":105,"x":2.64,"y":-3.74},{"g":105,"x":0.29,"y":-4.8},{"g":105,"x":-2.2,"y":-3.74},{"g":105,"x":-3.1,"y":0},{"g":105,"x":-2.64,"y":3.74},{"g":105,"x":-0.29,"y":4.8},{"g":105,"x":2.2,"y":3.74},
{"g":106,"x":2.9,"y":0},{"g":106,"x":2.03,"y":-3.35},{"g":106,"x":-0.3,"y":-4.3},{"g":106,"x":-2.49,"y":-3.35},{"g":106,"x":-2.9,"y":0},{"g":106,"x":-2.03,"y":3.35},{"g":106,"x":0.3,"y":4.3},{"g":106,"x":2.49,"y":3.35},
{"g":107,"x":3.5,"y":0},{"g":107,"x":2.97,"y":-4.84},{"g":107,"x":0.31,"y":-6.2},{"g":107,"x":-2.49,"y":-4.84},{"g":107,"x":-3.5,"y":0},{"g":107,"x":-2.97,"y":4.84},{"g":107,"x":-0.31,"y":6.2},{"g":107,"x":2.49,"y":4.84},
{"g":108,"x":2.7,"y":0},{"g":108,"x":1.89,"y":-2.81},{"g":108,"x":-0.29,"y":-3.6},{"g":108,"x":-2.33,"y":-2.81},{"g":108,"x":-2.7,"y":0},{"g":108,"x":-1.89,"y":2.81},{"g":108,"x":0.29,"y":3.6},{"g":108,"x":2.33,"y":2.81},
{"g":109,"x":3.2,"y":0},{"g":109,"x":2.78,"y":-4.06},{"g":109,"x":0.36,"y":-5.2},{"g":109,"x":-2.22,"y":-4.06},{"g":109,"x":-3.2,"y":0},{"g":109,"x":-2.78,"y":4.06},{"g":109,"x":-0.36,"y":5.2},{"g":109,"x":2.22,"y":4.06},
{"g":110,"x":3.0,"y":0},{"g":110,"x":2.18,"y":-3.12},{"g":110,"x":-0.2,"y":-4.0},{"g":110,"x":-2.5,"y":-3.12},{"g":110,"x":-3.0,"y":0},{"g":110,"x":-2.18,"y":3.12},{"g":110,"x":0.2,"y":4.0},{"g":110,"x":2.5,"y":3.12},
{"g":111,"x":2.6,"y":0},{"g":111,"x":2.22,"y":-2.34},{"g":111,"x":0.24,"y":-3.0},{"g":111,"x":-1.84,"y":-2.34},{"g":111,"x":-2.6,"y":0},{"g":111,"x":-2.22,"y":2.34},{"g":111,"x":-0.24,"y":3.0},{"g":111,"x":1.84,"y":2.34},
{"g":112,"x":3.4,"y":0},{"g":112,"x":2.47,"y":-4.6},{"g":112,"x":-0.24,"y":-5.9},{"g":112,"x":-2.83,"y":-4.6},{"g":112,"x":-3.4,"y":0},{"g":112,"x":-2.47,"y":4.6},{"g":112,"x":0.24,"y":5.9},{"g":112,"x":2.83,"y":4.6},
{"g":113,"x":2.8,"y":0},{"g":113,"x":2.36,"y":-3.59},{"g":113,"x":0.23,"y":-4.6},{"g":113,"x":-2.0,"y":-3.59},{"g":113,"x":-2.8,"y":0},{"g":113,"x":-2.36,"y":3.59},{"g":113,"x":-0.23,"y":4.6},{"g":113,"x":2.0,"y":3.59},
{"g":114,"x":3.15,"y":0},{"g":114,"x":2.11,"y":-3.9},{"g":114,"x":-0.45,"y":-5.0},{"g":114,"x":-2.81,"y":-3.9},{"g":114,"x":-3.15,"y":0},{"g":114,"x":-2.11,"y":3.9},{"g":114,"x":0.45,"y":5.0},{"g":114,"x":2.81,"y":3.9},
{"g":115,"x":2.95,"y":0},{"g":115,"x":2.54,"y":-2.65},{"g":115,"x":0.31,"y":-3.4},{"g":115,"x":-2.06,"y":-2.65},{"g":115,"x":-2.95,"y":0},{"g":115,"x":-2.54,"y":2.65},{"g":115,"x":-0.31,"y":3.4},{"g":115,"x":2.06,"y":2.65},
{"g":116,"x":3.35,"y":0},{"g":116,"x":2.73,"y":-4.13},{"g":116,"x":0.16,"y":-5.3},{"g":116,"x":-2.49,"y":-4.13},{"g":116,"x":-3.35,"y":0},{"g":116,"x":-2.73,"y":4.13},{"g":116,"x":-0.16,"y":5.3},{"g":116,"x":2.49,"y":4.13},
{"g":117,"x":3.05,"y":0},{"g":117,"x":2.27,"y":-3.51},{"g":117,"x":-0.14,"y":-4.5},{"g":117,"x":-2.49,"y":-3.51},{"g":117,"x":-3.05,"y":0},{"g":117,"x":-2.27,"y":3.51},{"g":117,"x":0.14,"y":4.5},{"g":117,"x":2.49,"y":3.51},
{"g":118,"x":3.25,"y":0},{"g":118,"x":2.6,"y":-4.6},{"g":118,"x":0,"y":-5.75},{"g":118,"x":-2.6,"y":-4.6},{"g":118,"x":-3.25,"y":0},{"g":118,"x":-2.6,"y":4.6},{"g":118,"x":0,"y":5.75},{"g":118,"x":2.6,"y":4.6},
{"g":119,"x":3.45,"y":0},{"g":119,"x":2.76,"y":-5.12},{"g":119,"x":0,"y":-6.4},{"g":119,"x":-2.76,"y":-5.12},{"g":119,"x":-3.45,"y":0},{"g":119,"x":-2.76,"y":5.12},{"g":119,"x":0,"y":6.4},{"g":119,"x":2.76,"y":5.12},
{"g":120,"x":3.35,"y":0},{"g":120,"x":2.69,"y":-4.8},{"g":120,"x":0.05,"y":-6.0},{"g":120,"x":-2.59,"y":-4.8},{"g":120,"x":-3.25,"y":0},{"g":120,"x":-2.59,"y":4.8},{"g":120,"x":0.05,"y":6.0},{"g":120,"x":2.69,"y":4.8},
{"g":121,"x":3.31,"y":0},{"g":121,"x":2.64,"y":-4.4},{"g":121,"x":-0.05,"y":-5.5},{"g":121,"x":-2.74,"y":-4.4},{"g":121,"x":-3.41,"y":0},{"g":121,"x":-2.74,"y":4.4},{"g":121,"x":-0.05,"y":5.5},{"g":121,"x":2.64,"y":4.4},
{"g":122,"x":2.1,"y":0},{"g":122,"x":1.59,"y":-2.02},{"g":122,"x":0.72,"y":-2.8},{"g":122,"x":0.01,"y":-2.02},{"g":122,"x":-0.1,"y":0},{"g":122,"x":0.41,"y":2.02},{"g":122,"x":1.28,"y":2.8},{"g":122,"x":1.99,"y":2.02},
{"g":123,"x":0.1,"y":0},{"g":123,"x":-0.41,"y":-2.02},{"g":123,"x":-1.28,"y":-2.8},{"g":123,"x":-1.99,"y":-2.02},{"g":123,"x":-2.1,"y":0},{"g":123,"x":-1.59,"y":2.02},{"g":123,"x":-0.72,"y":2.8},{"g":123,"x":-0.01,"y":2.02},
{"g":124,"x":2.8,"y":0},{"g":124,"x":2.72,"y":-1.66},{"g":124,"x":2.13,"y":-2.3},{"g":124,"x":1.42,"y":-1.66},{"g":124,"x":1.0,"y":0},{"g":124,"x":1.08,"y":1.66},{"g":124,"x":1.67,"y":2.3},{"g":124,"x":2.38,"y":1.66},
{"g":125,"x":-1.0,"y":0},{"g":125,"x":-1.08,"y":-1.66},{"g":125,"x":-1.67,"y":-2.3},{"g":125,"x":-2.38,"y":-1.66},{"g":125,"x":-2.8,"y":0},{"g":125,"x":-2.72,"y":1.66},{"g":125,"x":-2.13,"y":2.3},{"g":125,"x":-1.42,"y":1.66},
{"g":126,"x":3.0,"y":0},{"g":126,"x":2.47,"y":-2.81},{"g":126,"x":1.31,"y":-3.8},{"g":126,"x":0.25,"y":-2.81},{"g":126,"x":0,"y":0},{"g":126,"x":0.53,"y":2.81},{"g":126,"x":1.69,"y":3.8},{"g":126,"x":2.75,"y":2.81},
{"g":127,"x":0,"y":0},{"g":127,"x":-0.53,"y":-2.81},{"g":127,"x":-1.69,"y":-3.8},{"g":127,"x":-2.75,"y":-2.81},{"g":127,"x":-3.0,"y":0},{"g":127,"x":-2.47,"y":2.81},{"g":127,"x":-1.31,"y":3.8},{"g":127,"x":-0.25,"y":2.81},
{"g":128,"x":2.1,"y":0},{"g":128,"x":2.01,"y":-1.3},{"g":128,"x":1.42,"y":-1.8},{"g":128,"x":0.71,"y":-1.3},{"g":128,"x":0.3,"y":0},{"g":128,"x":0.39,"y":1.3},{"g":128,"x":0.98,"y":1.8},{"g":128,"x":1.69,"y":1.3},
{"g":129,"x":-0.3,"y":0},{"g":129,"x":-0.39,"y":-1.3},{"g":129,"x":-0.98,"y":-1.8},{"g":129,"x":-1.69,"y":-1.3},{"g":129,"x":-2.1,"y":0},{"g":129,"x":-2.01,"y":1.3},{"g":129,"x":-1.42,"y":1.8},{"g":129,"x":-0.71,"y":1.3},
{"g":130,"x":2.5,"y":0},{"g":130,"x":1.97,"y":-1.58},{"g":130,"x":0.6,"y":-2.2},{"g":130,"x":-0.77,"y":-1.58},{"g":130,"x":-1.3,"y":0},{"g":130,"x":-0.77,"y":1.58},{"g":130,"x":0.6,"y":2.2},{"g":130,"x":1.97,"y":1.58},
{"g":131,"x":1.3,"y":0},{"g":131,"x":0.77,"y":-1.58},{"g":131,"x":-0.6,"y":-2.2},{"g":131,"x":-1.97,"y":-1.58},{"g":131,"x":-2.5,"y":0},{"g":131,"x":-1.97,"y":1.58},{"g":131,"x":-0.6,"y":2.2},{"g":131,"x":0.77,"y":1.58},
{"g":132,"x":2.5,"y":0},{"g":132,"x":1.88,"y":-1.3},{"g":132,"x":0.3,"y":-1.8},{"g":132,"x":-1.28,"y":-1.3},{"g":132,"x":-1.9,"y":0},{"g":132,"x":-1.28,"y":1.3},{"g":132,"x":0.3,"y":1.8},{"g":132,"x":1.88,"y":1.3},
{"g":133,"x":1.9,"y":0},{"g":133,"x":1.28,"y":-1.3},{"g":133,"x":-0.3,"y":-1.8},{"g":133,"x":-1.88,"y":-1.3},{"g":133,"x":-2.5,"y":0},{"g":133,"x":-1.88,"y":1.3},{"g":133,"x":-0.3,"y":1.8},{"g":133,"x":1.28,"y":1.3},
{"g":134,"x":2.4,"y":0},{"g":134,"x":1.73,"y":-1.66},{"g":134,"x":0,"y":-2.3},{"g":134,"x":-1.73,"y":-1.66},{"g":134,"x":-2.4,"y":0},{"g":134,"x":-1.73,"y":1.66},{"g":134,"x":0,"y":2.3},{"g":134,"x":1.73,"y":1.66},
{"g":135,"x":1.7,"y":0},{"g":135,"x":1.56,"y":-1.08},{"g":135,"x":1.2,"y":-1.5},{"g":135,"x":0.84,"y":-1.08},{"g":135,"x":0.7,"y":0},{"g":135,"x":0.84,"y":1.08},{"g":135,"x":1.2,"y":1.5},{"g":135,"x":1.56,"y":1.08},
{"g":136,"x":-0.7,"y":0},{"g":136,"x":-0.84,"y":-1.08},{"g":136,"x":-1.2,"y":-1.5},{"g":136,"x":-1.56,"y":-1.08},{"g":136,"x":-1.7,"y":0},{"g":136,"x":-1.56,"y":1.08},{"g":136,"x":-1.2,"y":1.5},{"g":136,"x":-0.84,"y":1.08},
{"g":137,"x":1.35,"y":0},{"g":137,"x":1.22,"y":-0.86},{"g":137,"x":0.9,"y":-1.2},{"g":137,"x":0.58,"y":-0.86},{"g":137,"x":0.45,"y":0},{"g":137,"x":0.58,"y":0.86},{"g":137,"x":0.9,"y":1.2},{"g":137,"x":1.22,"y":0.86},
{"g":138,"x":-0.45,"y":0},{"g":138,"x":-0.58,"y":-0.86},{"g":138,"x":-0.9,"y":-1.2},{"g":138,"x":-1.22,"y":-0.86},{"g":138,"x":-1.35,"y":0},{"g":138,"x":-1.22,"y":0.86},{"g":138,"x":-0.9,"y":1.2},{"g":138,"x":-0.58,"y":0.86},
{"g":139,"x":2.15,"y":0},{"g":139,"x":2.0,"y":-1.15},{"g":139,"x":1.6,"y":-1.6},{"g":139,"x":1.2,"y":-1.15},{"g":139,"x":1.05,"y":0},{"g":139,"x":1.2,"y":1.15},{"g":139,"x":1.6,"y":1.6},{"g":139,"x":2.0,"y":1.15},
{"g":140,"x":-1.05,"y":0},{"g":140,"x":-1.2,"y":-1.15},{"g":140,"x":-1.6,"y":-1.6},{"g":140,"x":-2.0,"y":-1.15},{"g":140,"x":-2.15,"y":0},{"g":140,"x":-2.0,"y":1.15},{"g":140,"x":-1.6,"y":1.6},{"g":140,"x":-1.2,"y":1.15},
{"g":141,"x":0.8,"y":0},{"g":141,"x":0.69,"y":-0.94},{"g":141,"x":0.4,"y":-1.3},{"g":141,"x":0.11,"y":-0.94},{"g":141,"x":0,"y":0},{"g":141,"x":0.11,"y":0.94},{"g":141,"x":0.4,"y":1.3},{"g":141,"x":0.69,"y":0.94},
{"g":142,"x":0,"y":0},{"g":142,"x":-0.11,"y":-0.94},{"g":142,"x":-0.4,"y":-1.3},{"g":142,"x":-0.69,"y":-0.94},{"g":142,"x":-0.8,"y":0},{"g":142,"x":-0.69,"y":0.94},{"g":142,"x":-0.4,"y":1.3},{"g":142,"x":-0.11,"y":0.94},
{"g":143,"x":2.9,"y":0},{"g":143,"x":2.23,"y":-3.11},{"g":143,"x":0.96,"y":-4.2},{"g":143,"x":-0.13,"y":-3.11},{"g":143,"x":-0.3,"y":0},{"g":143,"x":0.37,"y":3.11},{"g":143,"x":1.64,"y":4.2},{"g":143,"x":2.73,"y":3.11},
{"g":144,"x":0.3,"y":0},{"g":144,"x":-0.37,"y":-3.11},{"g":144,"x":-1.64,"y":-4.2},{"g":144,"x":-2.73,"y":-3.11},{"g":144,"x":-2.9,"y":0},{"g":144,"x":-2.23,"y":3.11},{"g":144,"x":-0.96,"y":4.2},{"g":144,"x":0.13,"y":3.11},
{"g":145,"x":3.55,"y":0},{"g":145,"x":3.05,"y":-5.28},{"g":145,"x":0.26,"y":-6.6},{"g":145,"x":-2.63,"y":-5.28},{"g":145,"x":-3.55,"y":0},{"g":145,"x":-3.05,"y":5.28},{"g":145,"x":-0.26,"y":6.6},{"g":145,"x":2.63,"y":5.28}
]
},
"layer":[
{"data":{"name":"blu"},
 "mark":{"type":"line","interpolate":"cardinal-closed","strokeWidth":4.5,"clip":true},
 "encoding":{
  "x":{"field":"x","type":"quantitative","scale":{"domain":[-4,4],"nice":false,"zero":false},
       "axis":{"orient":"bottom","values":[-4,-3,-2,-1,0,1,2,3,4],"title":"x","titleFontStyle":"italic","labelPadding":15,"titlePadding":2,"labelFlush":false,"labelOverlap":false}},
  "y":{"field":"y","type":"quantitative","scale":{"domain":[-10,10],"nice":false,"zero":false},
       "axis":{"orient":"left","values":[-10,-8,-6,-4,-2,0,2,4,6,8,10],"title":"dx","labelPadding":10,"titlePadding":2,"labelOverlap":false}},
  "detail":{"field":"g"},
  "order":{"value":null},
  "color":{"datum":"Bistable with stops","type":"nominal","scale":{"domain":["Bistable with stops","Bistable without stops"],"range":["#2e3192","#231f20"]},
           "legend":{"orient":"none","legendX":197,"legendY":10,"title":null,"symbolType":"M-3,0H3","symbolSize":400,"symbolStrokeWidth":1,"labelFontSize":18,"labelFont":"DejaVu Serif","labelColor":"#231f20","labelOffset":25,"labelLimit":0,"padding":0,"rowPadding":0}}
 }},
{"data":{"name":"blk"},
 "mark":{"type":"line","interpolate":"cardinal-closed","strokeWidth":1.7,"clip":true},
 "encoding":{
  "x":{"field":"x","type":"quantitative","axis":{"orient":"top","labels":false,"title":null,"values":[-4,-3,-2,-1,0,1,2,3,4]}},
  "y":{"field":"y","type":"quantitative","axis":{"orient":"right","labels":false,"title":null,"values":[-10,-8,-6,-4,-2,0,2,4,6,8,10]}},
  "detail":{"field":"g"},
  "order":{"value":null},
  "color":{"datum":"Bistable without stops","type":"nominal"}
 }}
],
"resolve":{"axis":{"x":"independent","y":"independent"}},
"config":{
 "view":{"stroke":"#231f20","strokeWidth":1.5},
 "font":"DejaVu Serif",
 "axis":{"grid":false,"domain":false,"tickColor":"#231f20","tickSize":-6,"tickWidth":1,"labelFont":"DejaVu Serif","labelFontSize":16,"labelColor":"#231f20","titleFont":"DejaVu Serif","titleFontSize":17,"titleFontWeight":"normal","titleColor":"#231f20"}
}
}
